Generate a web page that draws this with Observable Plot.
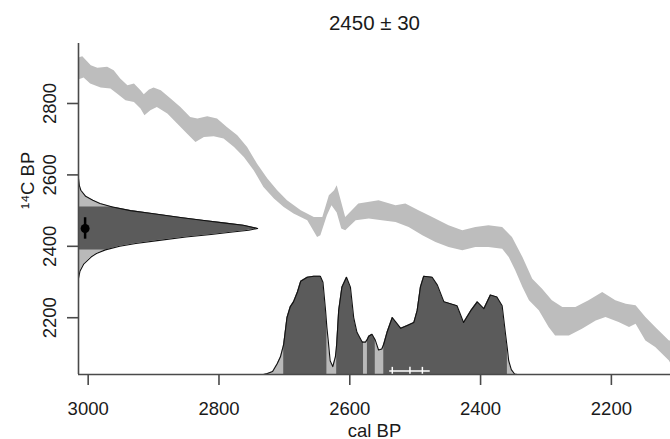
<!DOCTYPE html>
<html><head><meta charset="utf-8">
<script src="https://cdn.jsdelivr.net/npm/d3@7"></script>
<script src="https://cdn.jsdelivr.net/npm/@observablehq/plot@0.6"></script>
<style>body{margin:0;background:#fff;} svg{display:block;}</style>
</head><body><div id="chart"></div>
<script>
// ---------- text ----------
const title = "2450 ± 30";
const xLabel = "cal BP";
const yLabel = "¹⁴C BP";
const xTicks = [3000, 2800, 2600, 2400, 2200];
const yTicks = [2200, 2400, 2600, 2800];

// ---------- measured date ----------
const dateMean = 2450;
const dateErr = 30;

// ---------- calibration curve band (upper / lower edges) ----------
const bandUpperCal = [3015.3,3009,2996,2986,2971,2961,2951,2940,2930,2920,2915,2907,2900,2889,2874,2859,2844,2833,2818,2803,2788,2772,2757,2742,2726,2711,2696,2675,2655,2642,2632,2624,2620,2607,2587,2556,2530,2515,2495,2474,2449,2428,2408,2388,2367,2352,2336,2321,2306,2291,2275,2255,2235,2214,2194,2178,2163,2148,2133,2112,2109.6];
const bandUpperC14 = [2929,2932,2907,2900,2903,2893,2870,2851,2856,2837,2826,2839,2845,2837,2814,2790,2762,2758,2764,2758,2734,2711,2678,2632,2590,2557,2529,2501,2482,2482,2543,2557,2571,2482,2520,2529,2515,2520,2501,2482,2459,2445,2454,2459,2454,2426,2370,2309,2281,2249,2230,2230,2249,2272,2249,2239,2235,2202,2174,2136,2136];
const bandLowerCal = [3015.3,3007,2997,2981,2966,2956,2943,2930,2920,2914,2905,2895,2879,2864,2849,2836,2823,2808,2793,2777,2762,2747,2732,2716,2701,2686,2665,2650,2645,2635,2628,2620,2613,2607,2591,2571,2551,2530,2510,2489,2469,2449,2428,2408,2388,2367,2357,2347,2336,2326,2311,2296,2286,2265,2245,2224,2209,2189,2173,2163,2148,2133,2112,2109.6];
const bandLowerC14 = [2867,2873,2856,2845,2842,2828,2809,2804,2786,2767,2781,2790,2772,2744,2716,2692,2706,2708,2702,2678,2650,2613,2566,2534,2510,2492,2473,2426,2431,2487,2515,2495,2450,2445,2473,2478,2473,2468,2454,2431,2412,2398,2389,2398,2398,2393,2370,2333,2286,2249,2221,2174,2150,2150,2169,2192,2202,2188,2174,2183,2136,2118,2080,2072];

// ---------- calibrated distribution (relative probability) ----------
const calDistCal  = [2732,2726,2718,2711,2706,2701,2696,2691,2686,2680,2675,2665,2655,2645,2641,2637,2635,2633,2630,2626,2622,2620,2617,2612,2605,2599,2594,2589,2581,2579,2576,2573,2571,2566,2561,2556,2551,2548,2543,2535,2528,2522,2512,2502,2497,2492,2487,2474,2466,2456,2446,2436,2426,2415,2405,2395,2385,2375,2367,2362,2359,2357,2353,2348,2344];
const calDistProb = [0,0.01,0.03,0.11,0.18,0.31,0.58,0.69,0.74,0.84,0.95,0.99,1.0,1.0,0.94,0.65,0.48,0.35,0.14,0.08,0.18,0.31,0.65,0.89,0.99,0.89,0.58,0.43,0.33,0.33,0.33,0.36,0.39,0.41,0.35,0.25,0.26,0.31,0.43,0.58,0.52,0.47,0.50,0.53,0.65,0.89,1.0,0.99,0.91,0.74,0.72,0.70,0.53,0.65,0.74,0.67,0.81,0.79,0.70,0.42,0.26,0.14,0.05,0.005,0];
const hpdRanges = [[2701,2635],[2620,2579],[2573,2561],[2548,2359]];

// ---------- radiocarbon date distribution (relative probability) ----------
const c14DistC14  = [2590,2570,2557,2540,2529,2520,2510,2500,2492,2480,2473,2465,2459,2450,2445,2440,2433,2426,2416,2408,2400,2390,2380,2370,2351,2330,2310];
const c14DistProb = [0,0.005,0.013,0.04,0.08,0.12,0.19,0.29,0.41,0.58,0.69,0.82,0.92,1.0,0.95,0.86,0.74,0.60,0.44,0.32,0.23,0.15,0.10,0.07,0.03,0.008,0];
const c14Range = [2510, 2390];

// ---------- summary marks ----------
const summaryRange = [2539, 2477];
const summaryPoints = [2535, 2508, 2489];

// ---------- layout ----------
const W = 670, H = 439;
const xDomain = [3014.8, 2109.6];
const yDomain = [2041, 2968];
const xL = xDomain[0], yB = yDomain[0];
const distHeight = 275;   // in 14C years
const normWidth = 274;    // in cal years

const band = [
  ...bandUpperCal.map((c, i) => ({cal: c, c14: bandUpperC14[i]})),
  ...bandLowerCal.map((c, i) => ({cal: c, c14: bandLowerC14[i]})).reverse()
];
const dist = calDistCal.map((c, i) => ({cal: c, p: calDistProb[i]}));
const distDark = [];
hpdRanges.forEach((r, g) => dist.forEach(d => { if (d.cal <= r[0] && d.cal >= r[1]) distDark.push({...d, g}); }));
const norm = c14DistC14.map((c, i) => ({c14: c, p: c14DistProb[i]}));
const normDark = norm.filter(d => d.c14 <= c14Range[0] && d.c14 >= c14Range[1]);

const light = "#b9b9b9", dark = "#5b5b5b", axisCol = "#4a4a4a";

const chart = Plot.plot({
  width: W, height: H,
  marginLeft: 78, marginRight: 0, marginTop: 43, marginBottom: 65,
  style: {fontFamily: "'Liberation Sans', Arial, sans-serif", fontSize: "18.5px", color: "#1a1a1a", background: "#fff"},
  x: {domain: xDomain},
  y: {domain: yDomain},
  marks: [
    Plot.line(band, {x: "cal", y: "c14", fill: "#bdbdbd", stroke: "none"}),
    Plot.areaY(dist, {x: "cal", y1: () => yB, y2: d => yB + d.p * distHeight, fill: light}),
    Plot.areaY(distDark, {x: "cal", y1: () => yB, y2: d => yB + d.p * distHeight, z: "g", fill: dark}),
    Plot.line(dist, {x: "cal", y: d => yB + d.p * distHeight, stroke: "#111", strokeWidth: 1.1}),
    Plot.areaX(norm, {y: "c14", x1: () => xL, x2: d => xL - d.p * normWidth, fill: light}),
    Plot.areaX(normDark, {y: "c14", x1: () => xL, x2: d => xL - d.p * normWidth, fill: dark}),
    Plot.line(norm, {x: d => xL - d.p * normWidth, y: "c14", stroke: "#111", strokeWidth: 1.1}),
    Plot.ruleY([0], {x1: summaryRange[0], x2: summaryRange[1], y: () => yB, dy: -3.5, stroke: "white", strokeWidth: 1.5}),
    Plot.ruleX(summaryPoints, {x: d => d, y1: () => yB - 1, y2: () => yB + 20, stroke: "white", strokeWidth: 1.5}),
    Plot.ruleX([0], {x: () => xL, y1: () => dateMean - dateErr, y2: () => dateMean + dateErr, dx: 6.6, stroke: "black", strokeWidth: 2.5}),
    Plot.dot([0], {x: () => xL, y: () => dateMean, dx: 6.6, r: 4.5, fill: "black", stroke: "none"}),
    Plot.ruleX([xL], {y1: yDomain[0], y2: yDomain[1], stroke: axisCol, strokeWidth: 1.6}),
    Plot.ruleY([yB], {stroke: axisCol, strokeWidth: 1.6}),
    Plot.axisX({ticks: xTicks, tickSize: 11, tickPadding: 16, tickFormat: d => String(d), label: null, stroke: axisCol, strokeWidth: 1.6}),
    Plot.axisY({ticks: yTicks, tickSize: 11, tickPadding: 12, tickRotate: -90, tickFormat: d => String(d), label: null, stroke: axisCol, strokeWidth: 1.6}),
    Plot.text([title], {frameAnchor: "top", dy: -14, lineAnchor: "bottom", fontSize: 20.5}),
    Plot.text([xLabel], {frameAnchor: "bottom", dy: 62, lineAnchor: "bottom"}),
    Plot.text([yLabel], {frameAnchor: "left", dx: -50, rotate: -90})
  ]
});
document.getElementById("chart").appendChild(chart);
</script>
</body></html>
